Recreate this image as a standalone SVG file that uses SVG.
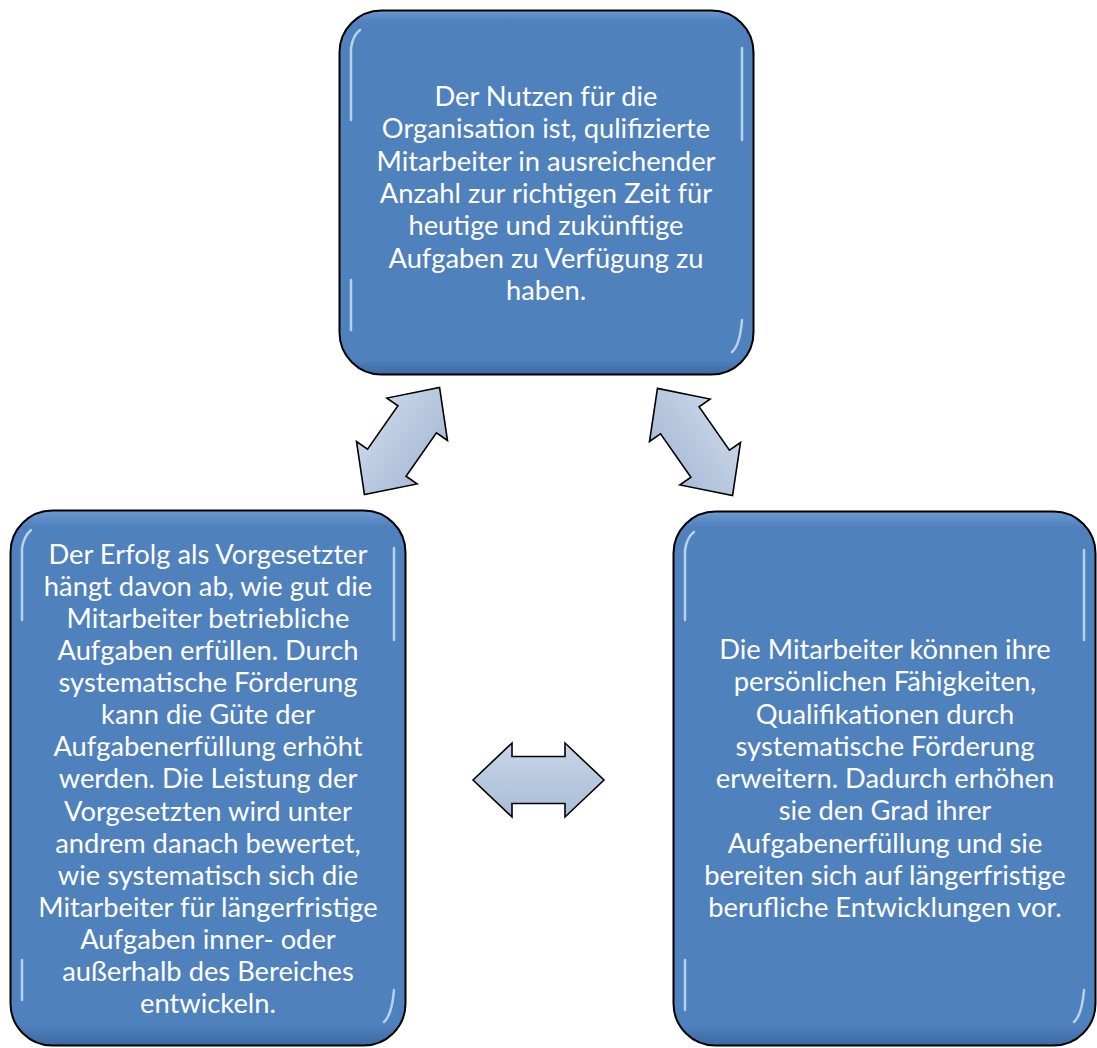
<svg xmlns="http://www.w3.org/2000/svg" width="1097" height="1048" viewBox="0 0 1097 1048">
<defs>
<style>
.box{fill:url(#boxg);stroke:#000;stroke-width:2}
.hl{fill:none;stroke:#DCEBFF;stroke-width:2.5;stroke-linecap:round;opacity:0.75}
.txt{font-family:Lato,"Open Sans","Liberation Sans",sans-serif;font-size:27.3px;fill:#fff;text-anchor:middle}
.arr{fill:url(#arrg);stroke:#000;stroke-width:1.6;stroke-linejoin:miter}
</style>
<linearGradient id="boxg" x1="0" y1="0" x2="0" y2="1">
<stop offset="0" stop-color="#6E9AD0"/>
<stop offset="0.03" stop-color="#4F81BD"/>
<stop offset="0.96" stop-color="#4F81BD"/>
<stop offset="1" stop-color="#3C6AA3"/>
</linearGradient>
<linearGradient id="arrg" x1="0" y1="0" x2="0" y2="1">
<stop offset="0" stop-color="#C9D6E8"/>
<stop offset="0.5" stop-color="#B8C8DF"/>
<stop offset="1" stop-color="#AABCD7"/>
</linearGradient>
</defs>
<rect width="1097" height="1048" fill="#fff"/>
<g id="node-top">
<rect class="box" x="339.5" y="10.5" width="414" height="364" rx="42"/>
<path class="hl" d="M351,120 V48 Q353,35 360,30"/>
<path class="hl" d="M742,48 V140"/>
<path class="hl" d="M351,280 V330"/>
<path class="hl" d="M742,320 Q740,345 732,352"/>
<text class="txt" x="546" y="106">Der Nutzen für die<tspan x="546" dy="32.3">Organisation ist, qulifizierte</tspan><tspan x="546" dy="32.3">Mitarbeiter in ausreichender</tspan><tspan x="546" dy="32.3">Anzahl zur richtigen Zeit für</tspan><tspan x="546" dy="32.3">heutige und zukünftige</tspan><tspan x="546" dy="32.3">Aufgaben zu Verfügung zu</tspan><tspan x="546" dy="32.3">haben.</tspan></text>
</g>
<g id="node-left">
<rect class="box" x="10.5" y="510.5" width="395" height="535" rx="42"/>
<path class="hl" d="M22,620 V548 Q24,536 31,530"/>
<path class="hl" d="M394,548 V640"/>
<path class="hl" d="M22,960 V1000"/>
<path class="hl" d="M394,990 Q392,1015 384,1022"/>
<text class="txt" x="208" y="564">Der Erfolg als Vorgesetzter<tspan x="208" dy="32.07">hängt davon ab, wie gut die</tspan><tspan x="208" dy="32.07">Mitarbeiter betriebliche</tspan><tspan x="208" dy="32.07">Aufgaben erfüllen. Durch</tspan><tspan x="208" dy="32.07">systematische Förderung</tspan><tspan x="208" dy="32.07">kann die Güte der</tspan><tspan x="208" dy="32.07">Aufgabenerfüllung erhöht</tspan><tspan x="208" dy="32.07">werden. Die Leistung der</tspan><tspan x="208" dy="32.07">Vorgesetzten wird unter</tspan><tspan x="208" dy="32.07">andrem danach bewertet,</tspan><tspan x="208" dy="32.07">wie systematisch sich die</tspan><tspan x="208" dy="32.07">Mitarbeiter für längerfristige</tspan><tspan x="208" dy="32.07">Aufgaben inner- oder</tspan><tspan x="208" dy="32.07">außerhalb des Bereiches</tspan><tspan x="208" dy="32.07">entwickeln.</tspan></text>
</g>
<g id="node-right">
<rect class="box" x="673.5" y="511.5" width="422" height="534" rx="42"/>
<path class="hl" d="M685,620 V550 Q687,537 694,532"/>
<path class="hl" d="M1084,550 V640"/>
<path class="hl" d="M685,960 V1010"/>
<path class="hl" d="M1084,990 Q1082,1015 1074,1022"/>
<text class="txt" x="885" y="659">Die Mitarbeiter können ihre<tspan x="885" dy="32.25">persönlichen Fähigkeiten,</tspan><tspan x="885" dy="32.25">Qualifikationen durch</tspan><tspan x="885" dy="32.25">systematische Förderung</tspan><tspan x="885" dy="32.25">erweitern. Dadurch erhöhen</tspan><tspan x="885" dy="32.25">sie den Grad ihrer</tspan><tspan x="885" dy="32.25">Aufgabenerfüllung und sie</tspan><tspan x="885" dy="32.25">bereiten sich auf längerfristige</tspan><tspan x="885" dy="32.25">berufliche Entwicklungen vor.</tspan></text>
</g>
<g id="connectors">
<path class="arr" transform="translate(402,441) rotate(-55)" d="M-65.5,0 L-26.5,-37 L-26.5,-23.5 L26.5,-23.5 L26.5,-37 L65.5,0 L26.5,37 L26.5,23.5 L-26.5,23.5 L-26.5,37 Z"/>
<path class="arr" transform="translate(695,442) rotate(55)" d="M-65.5,0 L-26.5,-37 L-26.5,-23.5 L26.5,-23.5 L26.5,-37 L65.5,0 L26.5,37 L26.5,23.5 L-26.5,23.5 L-26.5,37 Z"/>
<path class="arr" transform="translate(538.5,780)" d="M-65.5,0 L-26.5,-37 L-26.5,-23.5 L26.5,-23.5 L26.5,-37 L65.5,0 L26.5,37 L26.5,23.5 L-26.5,23.5 L-26.5,37 Z"/>
</g>
</svg>
